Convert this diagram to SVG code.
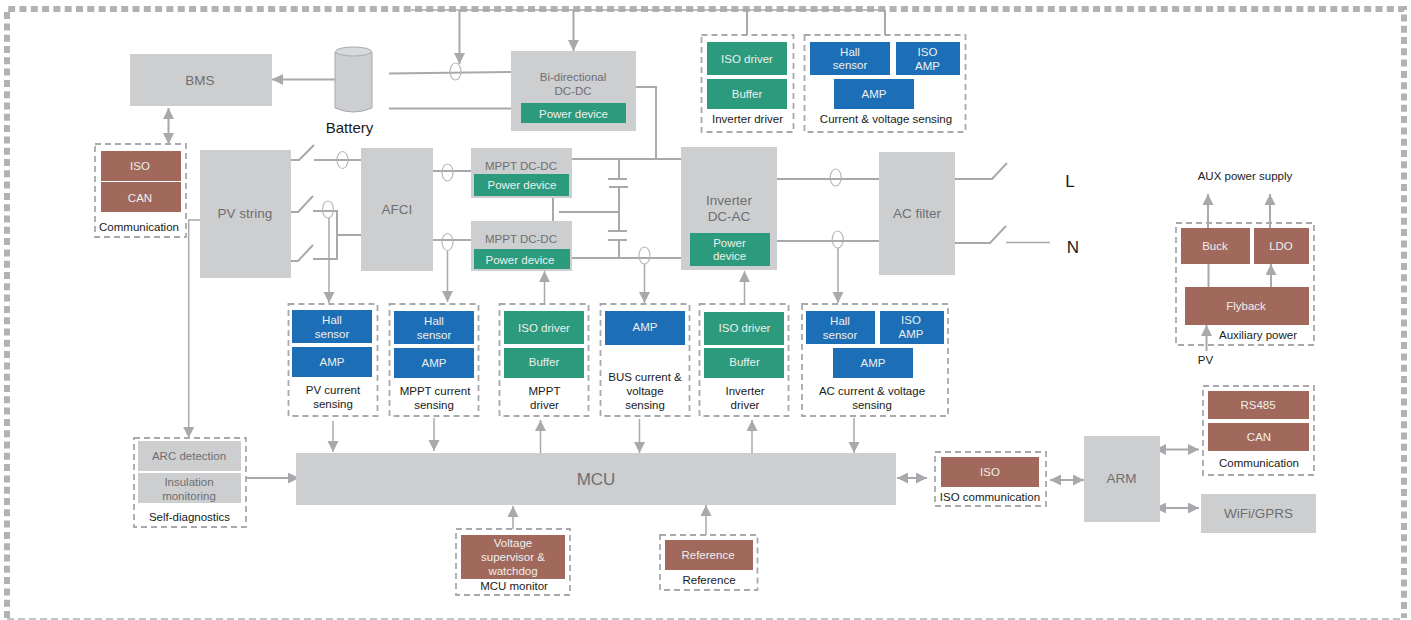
<svg xmlns="http://www.w3.org/2000/svg" width="1411" height="620" viewBox="0 0 1411 620">
<style>
text{font-family:"Liberation Sans",Arial,sans-serif;text-anchor:middle;dominant-baseline:central;font-size:11.500px}
.g{fill:#cdced0}.gr{fill:#2c9a7c}.b{fill:#1c6eb6}.r{fill:#a1685c}
.d{fill:none;stroke:#a7a9ac;stroke-width:1.800;stroke-dasharray:6 4}
.t{fill:#6d6e71}.w{fill:#eef0ee}.k{fill:#1a1a1a}
.big{font-size:15px}.med{font-size:13.500px}
.c path,.c line{fill:none;stroke:#a7a9ac;stroke-width:2}
.c .thin{stroke-width:1.500}
.c ellipse{fill:none;stroke:#b5b7b9;stroke-width:1.200}
.a{marker-end:url(#ah)}
.ab{marker-start:url(#as);marker-end:url(#ah)}
</style>
<defs>
<marker id="ah" markerUnits="userSpaceOnUse" markerWidth="12" markerHeight="12" refX="11" refY="5.500" orient="auto"><path d="M0 0L11 5.500L0 11Z" fill="#a7a9ac"/></marker>
<marker id="as" markerUnits="userSpaceOnUse" markerWidth="12" markerHeight="12" refX="0" refY="5.500" orient="auto"><path d="M11 0L0 5.500L11 11Z" fill="#a7a9ac"/></marker>
</defs>
<g id="frame" fill="none" stroke="#b0b2b4">
<path d="M7 618V9H1404V618" stroke-width="6" stroke-dasharray="7 4.300"/>
<path d="M7 619H1404" stroke-width="1.500" stroke-dasharray="7 4"/>
</g>
<g id="connectors" class="c">
<path class="thin" d="M411 10H885"/>
<path class="a" d="M459.500 10V64"/>
<path class="a" d="M573.500 10V51"/>
<path d="M747 10V35M885 10V35"/>
<path class="a" d="M335 79.500H272"/>
<path d="M389 73.500L511 72M389 108.500H511M636 87H656V159"/>
<path class="ab" d="M168.500 108V144"/>
<path d="M291 160H299L314 145M314 160H361M291 212H298L313 196M313 211H337V259H313M291 261H298L313 245M337 235H361"/>
<path d="M433 171H471M433 240H471M572 159H681M572 258H681M553 198V221"/>
<path d="M619 159V179M608 179H627M609 187H628M619 187V231M608 231H627M608 240H627M619 240V258M559 212H619"/>
<ellipse cx="455.500" cy="71.500" rx="5.500" ry="8.500"/>
<ellipse cx="342.500" cy="160" rx="5.500" ry="8.500"/>
<ellipse cx="328" cy="209.500" rx="5.500" ry="8.500"/>
<ellipse cx="447.500" cy="172.500" rx="5.500" ry="8.500"/>
<ellipse cx="447.500" cy="242" rx="5.500" ry="8.500"/>
<ellipse cx="644.500" cy="255.500" rx="5.500" ry="8.500"/>
<ellipse cx="835.700" cy="177.500" rx="5.500" ry="8.500"/>
<ellipse cx="837.700" cy="239.500" rx="5.500" ry="8.500"/>
<path class="a thin" d="M329 218V303"/>
<path class="a thin" d="M447.500 251V302"/>
<path class="a thin" d="M644.500 264V303"/>
<path class="a thin" d="M838 248V303"/>
<path d="M777 179H879M777 241H879M955 179H992L1007 163M955 243H990L1006 226"/>
<path class="thin" d="M1006 242.500H1050"/>
<path class="a thin" d="M544.500 304V271"/>
<path class="a thin" d="M744.500 304V271"/>
<path class="a thin" d="M333 421V452"/>
<path class="a thin" d="M434 418V451"/>
<path class="a thin" d="M540.500 453V420"/>
<path class="a thin" d="M639.500 419V453"/>
<path class="a thin" d="M752 453V420"/>
<path class="a thin" d="M854 418V453"/>
<path class="a" d="M246 478H299"/>
<path class="a thin" d="M200 220H188.700V438"/>
<path class="a thin" d="M513 529V506"/>
<path class="a thin" d="M706 535V505"/>
<path class="a" d="M1208 228V194"/>
<path class="a" d="M1270 228V194"/>
<path d="M1208.500 264V287"/>
<path class="a" d="M1271 287V264"/>
<path class="a" d="M1206.500 351V325"/>
<path class="ab" d="M1155 449.500H1199"/>
<path class="ab" d="M1155 508H1199"/>
<path class="ab" d="M1050 480H1084"/>
<path class="ab" d="M897 478H927"/>
</g>
<g id="bms"><rect class="g" x="130" y="54" width="142" height="52"/><text class="t med" x="200" y="80">BMS</text></g>
<g id="battery"><path d="M335 52V108Q353 116 372 108V52Z" fill="#cdced0" stroke="#a7a9ac"/><ellipse cx="353.500" cy="51.500" rx="18" ry="4.500" fill="#d8d9da" stroke="#a7a9ac"/><text class="k big" x="349.500" y="127.500">Battery</text></g>
<g id="bidc"><rect class="g" x="511" y="51" width="125" height="80"/><text class="t" x="573" y="77">Bi-directional</text><text class="t" x="573" y="91">DC-DC</text><rect class="gr" x="521" y="103" width="105" height="20"/><text class="w" x="573.500" y="114">Power device</text></g>
<g id="comm-left"><rect class="d" x="95" y="144" width="91" height="93"/><rect class="r" x="101" y="151" width="80" height="30"/><text class="w" x="140" y="166">ISO</text><rect class="r" x="101" y="182" width="80" height="30"/><text class="w" x="140" y="198">CAN</text><text class="k" x="139" y="227">Communication</text></g>
<g id="pv"><rect class="g" x="200" y="150" width="91" height="128"/><text class="t med" x="245" y="213">PV string</text></g>
<g id="afci"><rect class="g" x="361" y="148" width="72" height="123"/><text class="t med" x="397" y="209">AFCI</text></g>
<g id="mppt1"><rect class="g" x="471" y="148" width="101" height="50"/><text class="t" x="521" y="166">MPPT DC-DC</text><rect class="gr" x="474" y="174" width="95" height="22"/><text class="w" x="522" y="185">Power device</text></g>
<g id="mppt2"><rect class="g" x="471" y="221" width="101" height="50"/><text class="t" x="521" y="239">MPPT DC-DC</text><rect class="gr" x="474" y="249" width="96" height="20"/><text class="w" x="520" y="260">Power device</text></g>
<g id="inverter"><rect class="g" x="681" y="147" width="96" height="123"/><text class="t med" x="729" y="200">Inverter</text><text class="t med" x="729" y="216">DC-AC</text><rect class="gr" x="690" y="233" width="80" height="33"/><text class="w" x="729.500" y="243">Power</text><text class="w" x="729.500" y="256">device</text></g>
<g id="acfilter"><rect class="g" x="879" y="152" width="76" height="123"/><text class="t med" x="917" y="213">AC filter</text></g>
<g id="l"><text class="k" style="font-size:17px" x="1070" y="181">L</text></g>
<g id="n"><text class="k" style="font-size:17px" x="1073" y="247">N</text></g>
<g id="inv-drv-top"><rect class="d" x="701.500" y="35" width="92" height="97"/><rect class="gr" x="707" y="42" width="80" height="33"/><text class="w" x="747" y="59">ISO driver</text><rect class="gr" x="707" y="79" width="80" height="30"/><text class="w" x="747" y="94">Buffer</text><text class="k" x="747.500" y="119">Inverter driver</text></g>
<g id="sens-top"><rect class="d" x="804.500" y="35" width="161" height="97"/><rect class="b" x="810" y="42" width="80" height="33"/><text class="w" x="850" y="52">Hall</text><text class="w" x="850" y="65">sensor</text><rect class="b" x="896" y="42" width="64" height="33"/><text class="w" x="927.500" y="52">ISO</text><text class="w" x="927.500" y="66">AMP</text><rect class="b" x="834" y="79" width="80" height="30"/><text class="w" x="874" y="94">AMP</text><text class="k" x="886" y="119">Current &amp; voltage sensing</text></g>
<g id="pv-sens"><rect class="d" x="288.500" y="304" width="89" height="112"/><rect class="b" x="292" y="310" width="80" height="33"/><text class="w" x="332" y="320">Hall</text><text class="w" x="332" y="334">sensor</text><rect class="b" x="292" y="347" width="80" height="30"/><text class="w" x="332" y="362">AMP</text><text class="k" x="333" y="390">PV current</text><text class="k" x="333" y="404">sensing</text></g>
<g id="mppt-sens"><rect class="d" x="389.500" y="304" width="89" height="112"/><rect class="b" x="394" y="311" width="80" height="33"/><text class="w" x="434" y="321">Hall</text><text class="w" x="434" y="335">sensor</text><rect class="b" x="394" y="348" width="80" height="30"/><text class="w" x="434" y="363">AMP</text><text class="k" x="435" y="391">MPPT current</text><text class="k" x="434" y="405">sensing</text></g>
<g id="mppt-drv"><rect class="d" x="499.500" y="304" width="89" height="112"/><rect class="gr" x="504" y="311" width="80" height="33"/><text class="w" x="544" y="328">ISO driver</text><rect class="gr" x="504" y="348" width="80" height="30"/><text class="w" x="544" y="362">Buffer</text><text class="k" x="544.500" y="391">MPPT</text><text class="k" x="544.500" y="405">driver</text></g>
<g id="bus-sens"><rect class="d" x="600.500" y="304" width="89" height="112"/><rect class="b" x="605" y="311" width="80" height="34"/><text class="w" x="645" y="327">AMP</text><text class="k" x="645" y="377">BUS current &amp;</text><text class="k" x="645" y="391">voltage</text><text class="k" x="645" y="405">sensing</text></g>
<g id="inv-drv"><rect class="d" x="699.500" y="304" width="89" height="112"/><rect class="gr" x="704" y="312" width="80" height="33"/><text class="w" x="744.500" y="328">ISO driver</text><rect class="gr" x="704" y="348" width="80" height="30"/><text class="w" x="744.500" y="362">Buffer</text><text class="k" x="745" y="391">Inverter</text><text class="k" x="745" y="405">driver</text></g>
<g id="ac-sens"><rect class="d" x="802" y="304" width="146" height="112"/><rect class="b" x="806" y="311" width="69" height="33"/><text class="w" x="840" y="321">Hall</text><text class="w" x="840" y="335">sensor</text><rect class="b" x="880" y="311" width="64" height="33"/><text class="w" x="911" y="320">ISO</text><text class="w" x="911" y="334">AMP</text><rect class="b" x="833" y="348" width="80" height="30"/><text class="w" x="873" y="363">AMP</text><text class="k" x="872" y="391">AC current &amp; voltage</text><text class="k" x="872" y="405">sensing</text></g>
<g id="mcu"><rect class="g" x="296" y="453" width="600" height="52"/><text class="t" style="font-size:17px" x="596" y="479">MCU</text></g>
<g id="self-diag"><rect class="d" x="134" y="438" width="112" height="89"/><rect class="g" x="138" y="441" width="103" height="30"/><text class="t" x="189" y="456">ARC detection</text><rect class="g" x="138" y="473" width="103" height="30"/><text class="t" x="189" y="482">Insulation</text><text class="t" x="189" y="496">monitoring</text><text class="k" x="189.500" y="517">Self-diagnostics</text></g>
<g id="mcu-mon"><rect class="d" x="456" y="529" width="114" height="66"/><rect class="r" x="461" y="535" width="104" height="44"/><text class="w" x="513" y="543">Voltage</text><text class="w" x="513" y="557">supervisor &amp;</text><text class="w" x="513" y="571">watchdog</text><text class="k" x="514" y="586">MCU monitor</text></g>
<g id="reference"><rect class="d" x="660" y="535" width="97.500" height="55"/><rect class="r" x="665" y="540" width="88" height="30"/><text class="w" x="708" y="555">Reference</text><text class="k" x="709" y="580">Reference</text></g>
<g id="iso-comm"><rect class="d" x="935" y="452" width="111" height="54"/><rect class="r" x="941" y="457" width="98" height="30"/><text class="w" x="990" y="472">ISO</text><text class="k" x="990" y="497">ISO communication</text></g>
<g id="arm"><rect class="g" x="1084" y="436" width="76" height="86"/><text class="t med" x="1121.500" y="478">ARM</text></g>
<g id="comm-right"><rect class="d" x="1203" y="386" width="111" height="89"/><rect class="r" x="1208" y="391" width="101" height="28"/><text class="w" x="1258" y="405">RS485</text><rect class="r" x="1208" y="423" width="101" height="28"/><text class="w" x="1259" y="437">CAN</text><text class="k" x="1259" y="463">Communication</text></g>
<g id="wifi"><rect class="g" x="1201" y="494" width="115" height="39"/><text class="t med" x="1258.500" y="513">WiFi/GPRS</text></g>
<g id="aux"><text class="k" x="1245" y="176">AUX power supply</text><rect class="d" x="1176" y="223" width="138" height="122"/><rect class="r" x="1181" y="228" width="69" height="36"/><text class="w" x="1215" y="246">Buck</text><rect class="r" x="1254" y="228" width="55" height="36"/><text class="w" x="1281" y="246">LDO</text><rect class="r" x="1185" y="287" width="124" height="38"/><text class="w" x="1246" y="306">Flyback</text><text class="k" x="1258" y="335">Auxiliary power</text><text class="k" x="1205.500" y="360">PV</text></g>
</svg>
